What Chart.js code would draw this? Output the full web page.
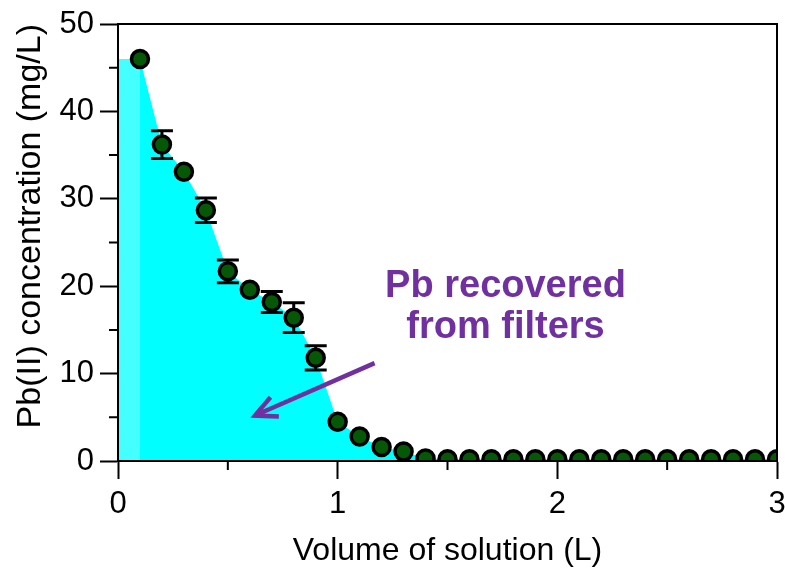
<!DOCTYPE html>
<html>
<head>
<meta charset="utf-8">
<script src="https://cdn.jsdelivr.net/npm/chart.js@4"></script>
<style>
  body { margin: 0; background: #fff; }
</style>
</head>
<body>
<canvas id="myChart" width="785" height="573"></canvas>
<script>
// volume de solution (L) et concentration de Pb(II) (mg/L)
const volume = [0.1, 0.2, 0.3, 0.4, 0.5, 0.6, 0.7, 0.8, 0.9, 1.0,
                1.1, 1.2, 1.3, 1.4, 1.5, 1.6, 1.7, 1.8, 1.9, 2.0,
                2.1, 2.2, 2.3, 2.4, 2.5, 2.6, 2.7, 2.8, 2.9, 3.0];
const conc = [46.0, 36.2, 33.1, 28.7, 21.7, 19.6, 18.2, 16.4, 11.8, 4.5,
              2.8, 1.6, 1.1, 0.3, 0.2, 0.2, 0.2, 0.2, 0.2, 0.2,
              0.2, 0.2, 0.2, 0.2, 0.2, 0.2, 0.2, 0.2, 0.2, 0.2];
const errBar = [0, 1.6, 0, 1.4, 1.3, 0, 1.2, 1.7, 1.4, 0,
                0, 0, 0, 0, 0, 0, 0, 0, 0, 0,
                0, 0, 0, 0, 0, 0, 0, 0, 0, 0];
const xTickLabels = [0, 1, 2, 3];
const yTickLabels = [0, 10, 20, 30, 40, 50];

// texte et flèche de l'annotation (en unités des axes)
const noteLines = ['Pb recovered', 'from filters'];
const noteAnchor = { x: 1.764, y: [18.8, 14.1] };
const arrowFrom = { x: 1.168, y: 11.2 };
const arrowTo = { x: 0.623, y: 5.2 };

const FONT = "'Liberation Sans', Arial, sans-serif";
const PURPLE = '#7030a0';

const ctx = document.getElementById('myChart');

const extras = {
  id: 'extras',
  beforeDatasetDraw(chart, args) {
    if (args.index !== 0) return;
    const c = chart.ctx, xs = chart.scales.x, ys = chart.scales.y;
    c.save();
    c.strokeStyle = '#000';
    c.lineWidth = 3;
    volume.forEach((v, i) => {
      if (!errBar[i]) return;
      const px = xs.getPixelForValue(v);
      const top = ys.getPixelForValue(conc[i] + errBar[i]);
      const bot = ys.getPixelForValue(conc[i] - errBar[i]);
      c.beginPath();
      c.moveTo(px, top); c.lineTo(px, bot);
      c.moveTo(px - 11, top); c.lineTo(px + 11, top);
      c.moveTo(px - 11, bot); c.lineTo(px + 11, bot);
      c.stroke();
    });
    c.restore();
  },
  afterDraw(chart) {
    const c = chart.ctx, a = chart.chartArea;
    const xs = chart.scales.x, ys = chart.scales.y;
    c.save();
    // cadre
    c.strokeStyle = '#000';
    c.lineWidth = 2;
    c.strokeRect(a.left, a.top, a.right - a.left, a.bottom - a.top);
    // petites graduations
    c.beginPath();
    [0.5, 1.5, 2.5].forEach(v => {
      const px = xs.getPixelForValue(v);
      c.moveTo(px, a.bottom); c.lineTo(px, a.bottom + 9);
    });
    [5, 15, 25, 35, 45].forEach(v => {
      const py = ys.getPixelForValue(v);
      c.moveTo(a.left - 9, py); c.lineTo(a.left, py);
    });
    c.stroke();
    // annotation
    c.fillStyle = PURPLE;
    c.font = 'bold 38px ' + FONT;
    c.textAlign = 'center';
    c.textBaseline = 'alphabetic';
    noteLines.forEach((t, i) => {
      c.fillText(t, xs.getPixelForValue(noteAnchor.x), ys.getPixelForValue(noteAnchor.y[i]));
    });
    const x0 = xs.getPixelForValue(arrowFrom.x), y0 = ys.getPixelForValue(arrowFrom.y);
    const x1 = xs.getPixelForValue(arrowTo.x), y1 = ys.getPixelForValue(arrowTo.y);
    const ang = Math.atan2(y0 - y1, x0 - x1);
    c.strokeStyle = PURPLE;
    c.lineWidth = 4.5;
    c.beginPath();
    c.moveTo(x0, y0); c.lineTo(x1, y1);
    c.moveTo(x1 + 24 * Math.cos(ang - 0.45), y1 + 24 * Math.sin(ang - 0.45));
    c.lineTo(x1, y1);
    c.lineTo(x1 + 24 * Math.cos(ang + 0.45), y1 + 24 * Math.sin(ang + 0.45));
    c.stroke();
    c.restore();
  }
};

new Chart(ctx, {
  type: 'line',
  data: {
    datasets: [{
      label: 'Pb(II)',
      data: volume.map((v, i) => ({ x: v, y: conc[i] })),
      showLine: false,
      pointRadius: 8.5,
      pointBorderWidth: 3.5,
      pointBackgroundColor: '#055805',
      pointBorderColor: '#000',
      clip: 0
    }, {
      label: 'aire',
      data: volume.map((v, i) => ({ x: v, y: conc[i] })),
      borderWidth: 0,
      pointRadius: 0,
      fill: 'origin',
      backgroundColor: '#00ffff'
    }, {
      label: 'bande',
      data: [{ x: 0, y: conc[0] }, { x: volume[0], y: conc[0] }],
      borderWidth: 0,
      pointRadius: 0,
      fill: 'origin',
      backgroundColor: '#44ffff'
    }]
  },
  options: {
    responsive: false,
    animation: false,
    layout: { autoPadding: false, padding: { top: 24, right: 8, left: 0, bottom: 0 } },
    plugins: { legend: { display: false }, tooltip: { enabled: false } },
    scales: {
      x: {
        type: 'linear', min: 0, max: 3,
        afterFit: s => { s.height = 112; s.paddingLeft = 0; s.paddingRight = 0; },
        border: { color: '#000', width: 2 },
        grid: {
          drawOnChartArea: false, tickLength: 18, tickWidth: 2,
          tickColor: c => xTickLabels.includes(c.tick.value) ? '#000' : 'rgba(0,0,0,0)'
        },
        ticks: {
          stepSize: 0.5, autoSkip: false, maxRotation: 0, padding: 7,
          color: '#000', font: { family: FONT, size: 31 },
          callback: v => xTickLabels.includes(v) ? v : ''
        },
        title: {
          display: true, text: 'Volume of solution (L)', color: '#000',
          font: { family: FONT, size: 32 }, padding: { top: 4, bottom: 3 }
        }
      },
      y: {
        min: 0, max: 50,
        afterFit: s => { s.width = 118; s.paddingTop = 0; s.paddingBottom = 0; },
        border: { color: '#000', width: 2 },
        grid: {
          drawOnChartArea: false, tickLength: 18, tickWidth: 2,
          tickColor: c => yTickLabels.includes(c.tick.value) ? '#000' : 'rgba(0,0,0,0)'
        },
        ticks: {
          stepSize: 5, autoSkip: false, padding: 6,
          color: '#000', font: { family: FONT, size: 31 },
          callback: v => yTickLabels.includes(v) ? v : ''
        },
        title: {
          display: true, text: 'Pb(II) concentration (mg/L)', color: '#000', align: 'end',
          font: { family: FONT, size: 34 }, padding: { top: 10, bottom: 0 }
        }
      }
    }
  },
  plugins: [extras]
});
</script>
</body>
</html>
